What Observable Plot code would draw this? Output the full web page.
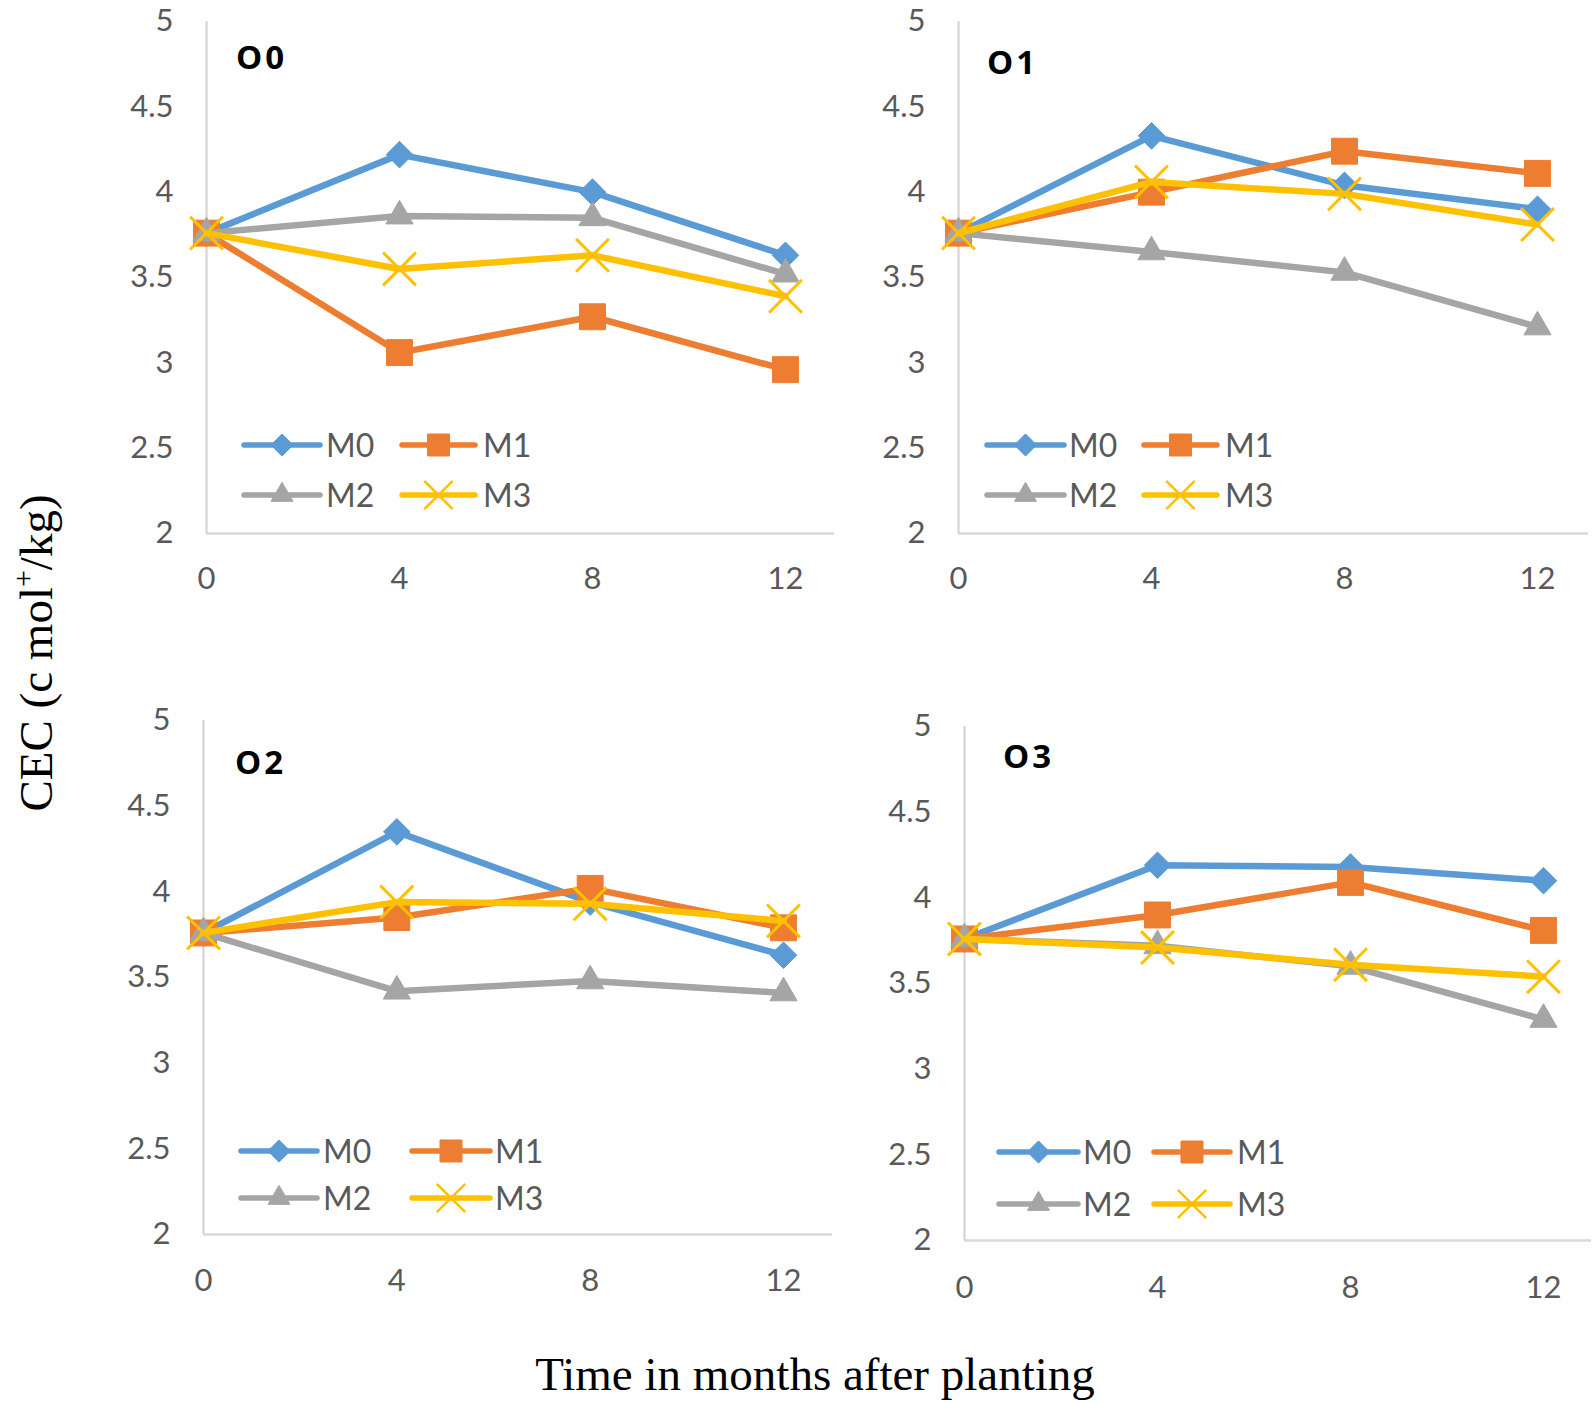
<!DOCTYPE html>
<html><head><meta charset="utf-8">
<script src="https://cdn.jsdelivr.net/npm/d3@7"></script>
<script src="https://cdn.jsdelivr.net/npm/@observablehq/plot@0.6"></script>
<style>
body{margin:0;background:#fff;}
#root{position:relative;width:1594px;height:1403px;overflow:hidden;background:#fff;}
.panel{position:absolute;}
.title{position:absolute;font-family:"Open Sans",sans-serif;font-weight:bold;font-size:33px;letter-spacing:3px;color:#000;line-height:1;transform:translateY(-50%);}
.legtext{position:absolute;font-family:Lato,sans-serif;font-size:32px;color:#595959;line-height:1;transform:translateY(-50%);}
.legsym{position:absolute;overflow:visible;}
.axtitle{position:absolute;font-family:"Liberation Serif",serif;color:#000;white-space:nowrap;line-height:1;}
</style>
</head><body><div id="root"></div>
<script>
// ---- data ----
const months = [0, 4, 8, 12];
const series = ["M0", "M1", "M2", "M3"];
const panels = ["O0", "O1", "O2", "O3"];
const yTicks = [2, 2.5, 3, 3.5, 4, 4.5, 5];
const colors = ["#5b9bd5", "#ed7d31", "#a5a5a5", "#ffc000"];

const o0M0 = [3.76, 4.22, 4.00, 3.63];
const o0M1 = [3.76, 3.06, 3.27, 2.96];
const o0M2 = [3.76, 3.86, 3.85, 3.52];
const o0M3 = [3.76, 3.55, 3.63, 3.39];

const o1M0 = [3.76, 4.33, 4.04, 3.90];
const o1M1 = [3.76, 4.00, 4.24, 4.11];
const o1M2 = [3.76, 3.65, 3.53, 3.21];
const o1M3 = [3.76, 4.06, 3.99, 3.81];

const o2M0 = [3.76, 4.35, 3.94, 3.63];
const o2M1 = [3.76, 3.85, 4.02, 3.79];
const o2M2 = [3.76, 3.42, 3.48, 3.41];
const o2M3 = [3.76, 3.94, 3.93, 3.83];

const o3M0 = [3.76, 4.19, 4.18, 4.10];
const o3M1 = [3.76, 3.90, 4.09, 3.81];
const o3M2 = [3.76, 3.72, 3.60, 3.29];
const o3M3 = [3.76, 3.71, 3.61, 3.54];

const panelData = [
  [o0M0, o0M1, o0M2, o0M3],
  [o1M0, o1M1, o1M2, o1M3],
  [o2M0, o2M1, o2M2, o2M3],
  [o3M0, o3M1, o3M2, o3M3]
];

// ---- layout (pixels) ----
const layout = [
  {x0: 206, x12: 785, xr: 834, y5: 21, y2: 533, xpad: 33, title: [236, 56],
   legRows: [445, 495], legCols: [[241, 323, 326], [399, 478, 483]]},
  {x0: 958, x12: 1537, xr: 1588, y5: 21, y2: 533, xpad: 33, title: [987, 61],
   legRows: [445, 495], legCols: [[984, 1067, 1069], [1141, 1220, 1225]]},
  {x0: 203, x12: 783, xr: 832, y5: 720, y2: 1234, xpad: 34, title: [235, 761],
   legRows: [1151, 1198], legCols: [[238, 320, 323], [409, 493, 495]]},
  {x0: 964, x12: 1543, xr: 1591, y5: 726, y2: 1240, xpad: 35, title: [1003, 755],
   legRows: [1152, 1204], legCols: [[996, 1081, 1083], [1151, 1233, 1237]]}
];

const symbols = [
  {symbol: "diamond2", r: 12, lr: 10, filled: true},
  {symbol: "square2", r: 16.5, lr: 14, filled: true},
  {symbol: "triangle2", r: 13, lr: 10.5, filled: true},
  {symbol: "times", r: 15, lr: 13, filled: false}
];

const root = document.getElementById("root");

panels.forEach((name, p) => {
  const cfg = layout[p];
  const ml = 80, mr = 12, mt = 21, mb = 70;
  const L = cfg.x0 - ml, T = cfg.y5 - mt;
  const W = cfg.xr - L + mr;
  const H = cfg.y2 - T + mb;
  const xmax = 12 * (cfg.xr - cfg.x0) / (cfg.x12 - cfg.x0);

  const marks = [
    Plot.ruleX([0], {stroke: "#d9d9d9", strokeWidth: 2.5}),
    Plot.ruleY([2], {stroke: "#d9d9d9", strokeWidth: 2.5}),
    Plot.axisX({ticks: months, tickSize: 0, tickPadding: cfg.xpad, label: null, tickFormat: d => String(d)}),
    Plot.axisY({ticks: yTicks, tickSize: 0, tickPadding: 33, label: null, tickFormat: d => String(d)})
  ];
  series.forEach((s, i) => {
    const rows = months.map((m, j) => ({month: m, value: panelData[p][i][j]}));
    marks.push(Plot.line(rows, {x: "month", y: "value", stroke: colors[i], strokeWidth: 6.5, strokeLinejoin: "round", strokeLinecap: "round"}));
    const sy = symbols[i];
    if (sy.filled) {
      marks.push(Plot.dot(rows, {x: "month", y: "value", symbol: sy.symbol, r: sy.r, fill: colors[i], stroke: colors[i], strokeWidth: 1}));
    } else {
      marks.push(Plot.dot(rows, {x: "month", y: "value", symbol: sy.symbol, r: sy.r, fill: "none", stroke: colors[i], strokeWidth: 3}));
    }
  });

  const chart = Plot.plot({
    width: W, height: H,
    marginLeft: ml, marginRight: mr, marginTop: mt, marginBottom: mb,
    x: {domain: [0, xmax]},
    y: {domain: [2, 5]},
    style: {fontFamily: "Lato, sans-serif", fontSize: "31px", color: "#595959", background: "transparent", overflow: "visible"},
    marks
  });
  chart.classList.add("panel");
  chart.style.left = L + "px";
  chart.style.top = T + "px";
  root.appendChild(chart);

  const t = document.createElement("div");
  t.className = "title";
  t.textContent = name;
  t.style.left = cfg.title[0] + "px";
  t.style.top = cfg.title[1] + "px";
  root.appendChild(t);

  // legend
  series.forEach((s, i) => {
    const ry = cfg.legRows[Math.floor(i / 2)];
    const [a, b, tx] = cfg.legCols[i % 2];
    const svg = d3.create("svg").attr("class", "legsym")
      .attr("width", b - a).attr("height", 40)
      .style("left", a + "px").style("top", (ry - 20) + "px");
    svg.append("line").attr("x1", 3).attr("x2", b - a - 3).attr("y1", 20).attr("y2", 20)
      .attr("stroke", colors[i]).attr("stroke-width", 5.5).attr("stroke-linecap", "round");
    const sy = symbols[i];
    const symMap = {diamond2: d3.symbolDiamond2, square2: d3.symbolSquare2, triangle2: d3.symbolTriangle2, times: d3.symbolTimes};
    const path = d3.symbol(symMap[sy.symbol], sy.lr * sy.lr * Math.PI)();
    svg.append("path").attr("d", path).attr("transform", `translate(${(b - a) / 2},20)`)
      .attr("fill", sy.filled ? colors[i] : "none").attr("stroke", colors[i])
      .attr("stroke-width", sy.filled ? 1 : 2.5);
    root.appendChild(svg.node());
    const lt = document.createElement("div");
    lt.className = "legtext";
    lt.textContent = s;
    lt.style.left = tx + "px";
    lt.style.top = ry + "px";
    root.appendChild(lt);
  });
});

// axis titles
const yt = document.createElement("div");
yt.className = "axtitle";
yt.style.fontSize = "47px";
yt.innerHTML = "CEC (c mol<sup style='font-size:30px;vertical-align:0;position:relative;top:-19px'>+</sup>/kg)";
yt.style.left = "36px";
yt.style.top = "653px";
yt.style.transform = "translate(-50%,-50%) rotate(-90deg)";
root.appendChild(yt);

const xt = document.createElement("div");
xt.className = "axtitle";
xt.style.fontSize = "47px";
xt.textContent = "Time in months after planting";
xt.style.left = "815px";
xt.style.top = "1374px";
xt.style.transform = "translate(-50%,-50%)";
root.appendChild(xt);
</script>
</body></html>
